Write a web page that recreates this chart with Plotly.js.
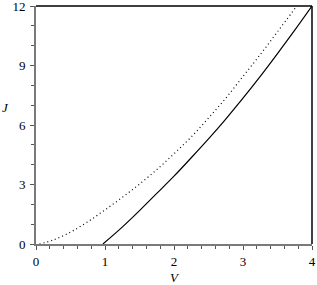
<!DOCTYPE html>
<html>
<head>
<meta charset="utf-8">
<script src="https://cdn.plot.ly/plotly-3.0.1.min.js"></script>
<style>html,body{margin:0;padding:0;background:#fff;}#chart{width:317px;height:285px;}</style>
</head>
<body>
<div id="chart"></div>
<script>
// Solid curve
const solidV = [0.97, 1.25, 1.5, 1.75, 2.0, 2.25, 2.5, 2.75, 3.0, 3.25, 3.5, 3.75, 4.0];
const solidJ = [0, 0.85, 1.68, 2.55, 3.42, 4.35, 5.3, 6.3, 7.35, 8.45, 9.6, 10.78, 12.0];
// Dotted curve
const dottedV = [0.05, 0.25, 0.5, 0.75, 1.0, 1.25, 1.5, 1.75, 2.0, 2.25, 2.5, 2.75, 3.0, 3.25, 3.5, 3.78];
const dottedJ = [0, 0.2, 0.6, 1.12, 1.72, 2.35, 3.02, 3.75, 4.55, 5.4, 6.35, 7.35, 8.45, 9.55, 10.7, 12.0];
const xTicks = [0, 1, 2, 3, 4];
const yTicks = [0, 3, 6, 9, 12];

const font = {family: 'Liberation Serif', size: 13, color: '#000'};

const traces = [
  {x: dottedV, y: dottedJ, mode: 'lines', line: {color: '#000', width: 1.2, dash: '1px,3px', shape: 'spline'}, hoverinfo: 'skip'},
  {x: solidV, y: solidJ, mode: 'lines', line: {color: '#000', width: 1.2, shape: 'spline'}, hoverinfo: 'skip'}
];

const axisCommon = {
  showgrid: false, zeroline: false, showline: true, linecolor: '#7a7a7a', linewidth: 2,
  ticks: 'outside', ticklen: 4, tickwidth: 1, tickcolor: '#555', tickfont: font,
  mirror: false, ticklabeloverflow: 'allow'
};

const layout = {
  width: 317, height: 285,
  margin: {l: 36, r: 5, t: 6, b: 41},
  paper_bgcolor: '#fff', plot_bgcolor: '#fff',
  showlegend: false,
  font: font,
  xaxis: Object.assign({}, axisCommon, {
    range: [0, 4], tickmode: 'array', tickvals: xTicks, ticktext: xTicks.map(String),
    minor: {dtick: 0.2, ticks: 'outside', ticklen: 3, tickcolor: '#555', tickwidth: 1},
    title: {text: '<i>V</i>', font: font, standoff: 12}
  }),
  yaxis: Object.assign({}, axisCommon, {
    range: [0, 12], tickmode: 'array', tickvals: yTicks, ticktext: yTicks.map(String),
    ticklabelstandoff: 2,
    minor: {dtick: 1, ticks: 'outside', ticklen: 3, tickcolor: '#555', tickwidth: 1},
    title: {text: ''}
  }),
  shapes: [
    {type: 'line', xref: 'paper', yref: 'paper', x0: 0, x1: 1, y0: 1, y1: 1, line: {color: '#000', width: 1.5}},
    {type: 'line', xref: 'paper', yref: 'paper', x0: 1, x1: 1, y0: 0, y1: 1, line: {color: '#000', width: 1.5}}
  ],
  annotations: [
    {text: '<i>J</i>', xref: 'paper', yref: 'paper', x: -0.11, y: 0.575, xanchor: 'center', yanchor: 'middle', showarrow: false, font: font}
  ]
};

Plotly.newPlot('chart', traces, layout, {staticPlot: true, displayModeBar: false});
</script>
</body>
</html>
